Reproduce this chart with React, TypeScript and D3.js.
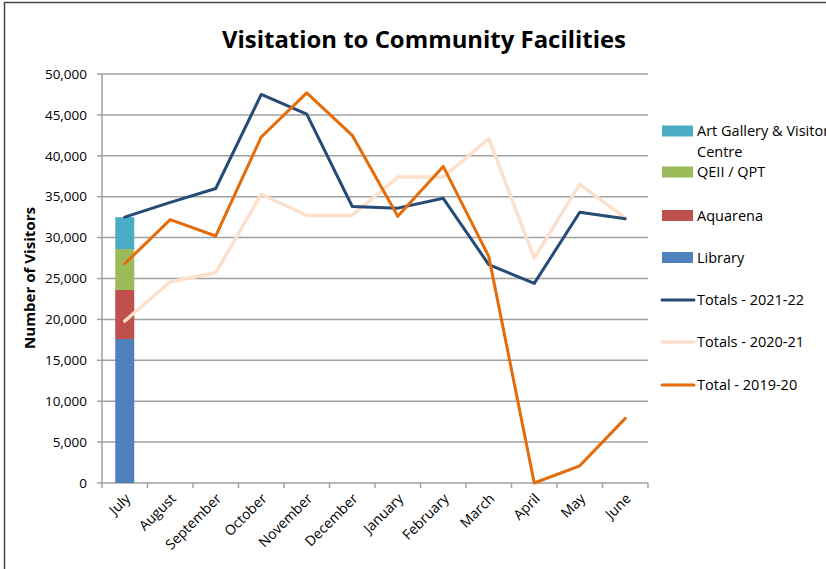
import React from "react";
import * as d3 from "d3";

const months = ["July","August","September","October","November","December","January","February","March","April","May","June"];
const yTicks = [0,5000,10000,15000,20000,25000,30000,35000,40000,45000,50000];

// July 2021-22 breakdown (stacked bar)
const facilities = ["Library","Aquarena","QEII / QPT","Art Gallery & Visitor Centre"];
const facilityValues = [17600, 6000, 5000, 3900];
const facilityColors = ["#4F81BD","#C0504D","#9BBB59","#4BACC6"];

const totals2122 = [32500,34300,36000,47500,45100,33800,33600,34800,26700,24400,33100,32300];
const totals2021 = [19800,24600,25700,35300,32700,32700,37400,37400,42100,27500,36500,32400];
const totals1920 = [26800,32200,30200,42300,47700,42500,32600,38700,27700,0,2100,7900];

const lineSeries = [
  { name: "Totals - 2021-22", values: totals2122, color: "#264B76", width: 3 },
  { name: "Totals - 2020-21", values: totals2021, color: "#FCE0CB", width: 3.5 },
  { name: "Total - 2019-20", values: totals1920, color: "#E46C0A", width: 3 },
];

const FONT = "'Open Sans', sans-serif";

export default function App() {
  const W = 826, H = 569;
  const left = 102, right = 648, top = 74, bottom = 483;
  const x = d3.scaleBand<string>().domain(months).range([left, right]).paddingInner(0).paddingOuter(0);
  const y = d3.scaleLinear().domain([0, 50000]).range([bottom, top]);
  const cx = (m: string) => (x(m) as number) + x.bandwidth() / 2;
  const fmt = d3.format(",");

  const line = d3.line<number>().x((_, i) => cx(months[i])).y((v) => y(v));

  const stack = d3.stack<any>().keys(facilities)([
    Object.fromEntries(facilities.map((f, i) => [f, facilityValues[i]])),
  ]);
  const barW = 19;

  const drawOrder = [1, 0, 2];

  const legendItems = [
    { type: "rect", label: ["Art Gallery & Visitor", "Centre"], color: facilityColors[3], y: 131 },
    { type: "rect", label: ["QEII / QPT"], color: facilityColors[2], y: 172 },
    { type: "rect", label: ["Aquarena"], color: facilityColors[1], y: 215.5 },
    { type: "rect", label: ["Library"], color: facilityColors[0], y: 257.5 },
    { type: "line", label: [lineSeries[0].name], color: lineSeries[0].color, y: 300, w: 3 },
    { type: "line", label: [lineSeries[1].name], color: lineSeries[1].color, y: 342, w: 3.5 },
    { type: "line", label: [lineSeries[2].name], color: lineSeries[2].color, y: 385, w: 3 },
  ];

  return (
    <svg width={W} height={H} style={{ position: "absolute", left: 0, top: 0, background: "#fff" }} fontFamily={FONT}>
      <rect x={0} y={0} width={W} height={H} fill="#fff" />
      <rect x={4.5} y={2.5} width={W + 10} height={H + 10} fill="none" stroke="#444" strokeWidth={1.5} />
      <text x={424} y={48} textAnchor="middle" fontSize={24} fontWeight="bold" fill="#000" textLength={404} lengthAdjust="spacingAndGlyphs">
        Visitation to Community Facilities
      </text>

      {/* gridlines */}
      {yTicks.map((t) => (
        <g key={t}>
          <line x1={left} x2={right} y1={y(t)} y2={y(t)} stroke="#A0A0A0" strokeWidth={1.5} />
          <line x1={left - 5} x2={left} y1={y(t)} y2={y(t)} stroke="#A0A0A0" strokeWidth={1.5} />
          <text x={87} y={y(t)} dy="0.35em" textAnchor="end" fontSize={13.5} fill="#000">{fmt(t)}</text>
        </g>
      ))}
      <line x1={left} x2={left} y1={top} y2={bottom} stroke="#A0A0A0" strokeWidth={1.5} />
      {/* x axis ticks */}
      {months.concat(["end"]).map((m, i) => {
        const xx = left + i * x.bandwidth();
        return <line key={m} x1={xx} x2={xx} y1={bottom} y2={bottom + 5} stroke="#A0A0A0" strokeWidth={1.5} />;
      })}
      {months.map((m) => (
        <text key={m} transform={`translate(${cx(m) + 3},${bottom + 13}) rotate(-45)`} textAnchor="end" dy="0.35em" fontSize={14} fill="#000">
          {m}
        </text>
      ))}

      <text transform={`translate(35,${278}) rotate(-90)`} textAnchor="middle" fontSize={14} fontWeight="bold" fill="#000" textLength={142} lengthAdjust="spacingAndGlyphs">
        Number of Visitors
      </text>

      {/* stacked bar for July */}
      {stack.map((s, i) => (
        <rect key={s.key} x={cx("July") - barW / 2} width={barW} y={y(s[0][1])} height={y(s[0][0]) - y(s[0][1])} fill={facilityColors[i]} />
      ))}

      {/* lines */}
      {drawOrder.map((k) => {
        const s = lineSeries[k];
        return (
          <path key={s.name} d={line(s.values) as string} fill="none" stroke={s.color} strokeWidth={s.width} strokeLinejoin="round" strokeLinecap="round" />
        );
      })}

      {/* legend */}
      {legendItems.map((it, i) => (
        <g key={i}>
          {it.type === "rect" ? (
            <rect x={662} y={it.y - 5.5} width={31} height={11} fill={it.color} />
          ) : (
            <line x1={662} x2={694} y1={it.y} y2={it.y} stroke={it.color} strokeWidth={it.w} strokeLinecap="round" />
          )}
          {it.label.map((l, j) => (
            <text key={j} x={697} y={it.y + j * 21} dy="0.35em" fontSize={14.5} fill="#000">{l}</text>
          ))}
        </g>
      ))}
    </svg>
  );
}
